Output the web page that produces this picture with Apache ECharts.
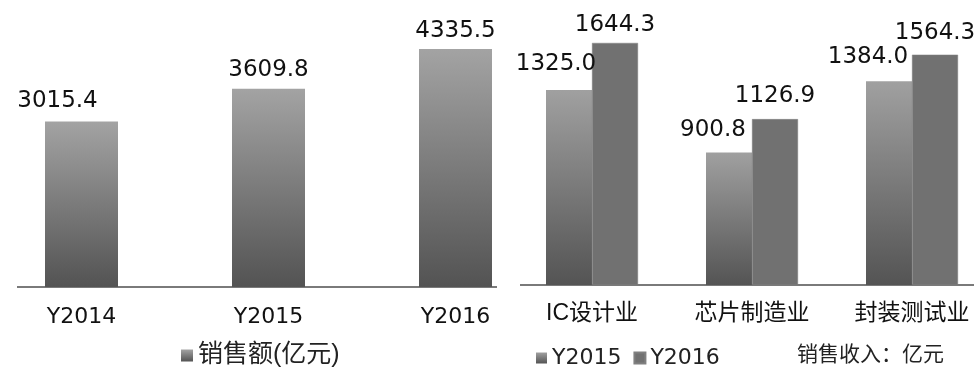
<!DOCTYPE html>
<html>
<head>
<meta charset="utf-8">
<script src="https://cdn.jsdelivr.net/npm/echarts@6/dist/echarts.min.js"></script>
<style>
  html, body { margin: 0; padding: 0; background: #fff; }
  #main { width: 974px; height: 369px; }
</style>
</head>
<body>
<div id="main"></div>
<script>
// 左图：历年销售额
const yearCategories = ['Y2014', 'Y2015', 'Y2016'];
const yearSales = [3015.4, 3609.8, 4335.5];

// 右图：分行业销售收入
const industryCategories = ['IC设计业', '芯片制造业', '封装测试业'];
const income2015 = [1325.0, 900.8, 1384.0];
const income2016 = [1644.3, 1126.9, 1564.3];

const FONT = '"Liberation Sans", "Noto Sans CJK SC", sans-serif';
const WIDE = '"DejaVu Sans", "Noto Sans CJK SC", sans-serif';

// 柱子的渐变色
function fadeGray(top, bottom) {
    return new echarts.graphic.LinearGradient(0, 0, 0, 1, [
        { offset: 0, color: top },
        { offset: 1, color: bottom }
    ]);
}

// 数值标签（部分标签手动偏移，和原图一致）
function withLabels(values, shifts) {
    return values.map(function (v, i) {
        return {
            value: v,
            label: { offset: shifts[i] }
        };
    });
}

var dom = document.getElementById('main');
var myChart = echarts.init(dom, null, { renderer: 'canvas' });

var labelStyle = {
    show: true,
    position: 'top',
    distance: 6,
    color: '#111',
    fontSize: 23,
    fontFamily: WIDE,
    formatter: function (p) { return p.value.toFixed(1); }
};

var option = {
    animation: false,
    textStyle: { fontFamily: FONT },
    title: {
        text: '销售收入：亿元',
        left: 792,
        top: 340,
        textStyle: { fontSize: 21, fontWeight: 'normal', color: '#222', fontFamily: FONT }
    },
    legend: [
        {
            data: ['销售额(亿元)'],
            left: 176,
            top: 338,
            icon: 'rect',
            itemWidth: 12,
            itemHeight: 12,
            itemGap: 4,
            textStyle: { fontSize: 25, color: '#222', fontFamily: FONT }
        },
        {
            data: ['Y2015', 'Y2016'],
            left: 531,
            top: 342,
            icon: 'rect',
            itemWidth: 11,
            itemHeight: 11,
            itemGap: 12,
            textStyle: { fontSize: 22, color: '#222', fontFamily: WIDE }
        }
    ],
    grid: [
        { left: -12, width: 561, top: 12.5, bottom: 82, outerBoundsMode: 'none' },
        { left: 512, width: 480, top: 20, bottom: 84, outerBoundsMode: 'none' }
    ],
    xAxis: [
        {
            type: 'category',
            gridIndex: 0,
            data: yearCategories,
            axisLine: { show: false },
            axisTick: { show: false },
            axisLabel: { margin: 19, fontSize: 22, color: '#111', fontFamily: WIDE }
        },
        {
            type: 'category',
            gridIndex: 1,
            data: industryCategories,
            axisLine: { show: false },
            axisTick: { show: false },
            axisLabel: { margin: 17, fontSize: 23, color: '#111', fontFamily: FONT }
        }
    ],
    yAxis: [
        { type: 'value', gridIndex: 0, min: 0, max: 5000, show: false, splitLine: { show: false } },
        { type: 'value', gridIndex: 1, min: 0, max: 1800, show: false, splitLine: { show: false } }
    ],
    series: [
        {
            name: '销售额(亿元)',
            type: 'bar',
            xAxisIndex: 0,
            yAxisIndex: 0,
            barWidth: 73,
            itemStyle: { color: fadeGray('#a3a3a3', '#535353') },
            label: labelStyle,
            data: withLabels(yearSales, [[-24, -3], [0, -1], [0, 0]])
        },
        {
            name: 'Y2015',
            type: 'bar',
            xAxisIndex: 1,
            yAxisIndex: 1,
            barWidth: 46,
            barGap: '0%',
            itemStyle: { color: fadeGray('#a0a0a0', '#545454') },
            label: labelStyle,
            data: withLabels(income2015, [[-13, -8], [-16, -5], [-21, -7]])
        },
        {
            name: 'Y2016',
            type: 'bar',
            xAxisIndex: 1,
            yAxisIndex: 1,
            barWidth: 46,
            barGap: '0%',
            itemStyle: { color: '#717171', borderColor: '#808080', borderWidth: 0.5 },
            label: labelStyle,
            data: withLabels(income2016, [[0, 0], [0, -6], [0, -4]])
        }
    ],
    // 两个图的横轴线（原图的线并不贴着类目带的边）
    graphic: [
        {
            type: 'line',
            shape: { x1: 17, y1: 287, x2: 497, y2: 287 },
            style: { stroke: '#7a7a7a', lineWidth: 2 }
        },
        {
            type: 'line',
            shape: { x1: 520, y1: 285, x2: 974, y2: 285 },
            style: { stroke: '#7a7a7a', lineWidth: 2 }
        }
    ]
};

if (option && typeof option === 'object') {
    myChart.setOption(option);
}
window.addEventListener('resize', myChart.resize);
</script>
</body>
</html>
